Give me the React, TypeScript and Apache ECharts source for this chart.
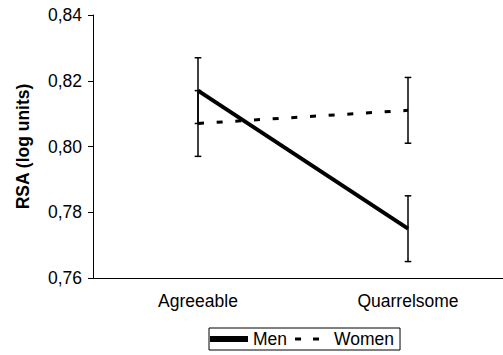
import React, { useEffect, useRef } from "react";
import * as echarts from "echarts";

const categories = ["Agreeable", "Quarrelsome"];
const menValues = [0.817, 0.775];
const womenValues = [0.807, 0.811];
const menErrLow = [0.807, 0.765];
const menErrHigh = [0.827, 0.785];
const womenErrLow = [0.797, 0.801];
const womenErrHigh = [0.817, 0.821];
const yMin = 0.76;
const yMax = 0.84;
const yInterval = 0.02;

export default function App() {
  const ref = useRef<HTMLDivElement>(null);
  useEffect(() => {
    if (!ref.current) return;
    const chart = echarts.init(ref.current, undefined, { renderer: "svg" });
    const errData: number[][] = [];
    categories.forEach((_, i) => {
      errData.push([i, menErrLow[i], menErrHigh[i]]);
      errData.push([i, womenErrLow[i], womenErrHigh[i]]);
    });
    const font = "Liberation Sans, Arial, Helvetica, sans-serif";
    const fs = 17.5;
    chart.setOption({
      animation: false,
      backgroundColor: "#fff",
      textStyle: { fontFamily: font },
      grid: { left: 93, top: 15, width: 420, height: 263, containLabel: false },
      xAxis: {
        type: "category",
        data: categories,
        boundaryGap: true,
        axisLine: { lineStyle: { color: "#000", width: 1 } },
        axisTick: { show: false },
        axisLabel: { color: "#000", fontSize: fs, margin: 14, fontFamily: font },
      },
      yAxis: {
        type: "value",
        min: yMin,
        max: yMax,
        interval: yInterval,
        name: "RSA (log units)",
        nameLocation: "middle",
        nameGap: 61,
        nameTextStyle: { color: "#000", fontSize: fs, fontWeight: "bold", fontFamily: font },
        axisLine: { show: true, lineStyle: { color: "#000", width: 1 } },
        axisTick: { show: true, length: 5, lineStyle: { color: "#000" } },
        splitLine: { show: false },
        axisLabel: {
          color: "#000",
          fontSize: fs,
          margin: 11,
          fontFamily: font,
          formatter: (v: number) => v.toFixed(2).replace(".", ","),
        },
      },
      legend: {
        left: 209,
        top: 328,
        orient: "horizontal",
        padding: [2, 6, 2, 1],
        itemGap: 4,
        itemWidth: 38,
        itemHeight: 6,
        borderColor: "#000",
        borderWidth: 1,
        textStyle: { color: "#000", fontSize: fs, fontFamily: font },
        itemStyle: { color: "#000", borderWidth: 0 },
        lineStyle: { width: 0 },
        data: [
          { name: "Men", icon: "path://M0,0H38V6H0Z" },
          { name: "Women", icon: "path://M4,1.5H10V4.5H4Z M22,1.5H28V4.5H22Z M0,0L0,6L0,0Z M38,0L38,6L38,0Z" },
        ],
      },
      series: [
        {
          name: "Men",
          type: "line",
          data: menValues,
          symbol: "none",
          color: "#000",
          lineStyle: { color: "#000", width: 4, type: "solid" },
        },
        {
          name: "Women",
          type: "line",
          data: womenValues,
          symbol: "none",
          color: "#000",
          lineStyle: { color: "#000", width: 3, type: [6, 12.7] },
        },
        {
          name: "errors",
          type: "custom",
          data: errData,
          silent: true,
          z: 3,
          renderItem: (params: any, api: any) => {
            const x = api.value(0);
            const lo = api.coord([x, api.value(1)]);
            const hi = api.coord([x, api.value(2)]);
            const hw = 3.3;
            const style = { stroke: "#000", lineWidth: 1.5 };
            return {
              type: "group",
              children: [
                { type: "line", shape: { x1: lo[0], y1: lo[1], x2: hi[0], y2: hi[1] }, style },
                { type: "line", shape: { x1: lo[0] - hw, y1: lo[1], x2: lo[0] + hw, y2: lo[1] }, style },
                { type: "line", shape: { x1: hi[0] - hw, y1: hi[1], x2: hi[0] + hw, y2: hi[1] }, style },
              ],
            };
          },
        },
      ],
    });
    return () => chart.dispose();
  }, []);
  return (
    <div style={{ position: "absolute", left: 0, top: 0, width: 503, height: 355, overflow: "hidden" }}>
      <div ref={ref} style={{ width: 520, height: 355 }} />
    </div>
  );
}
